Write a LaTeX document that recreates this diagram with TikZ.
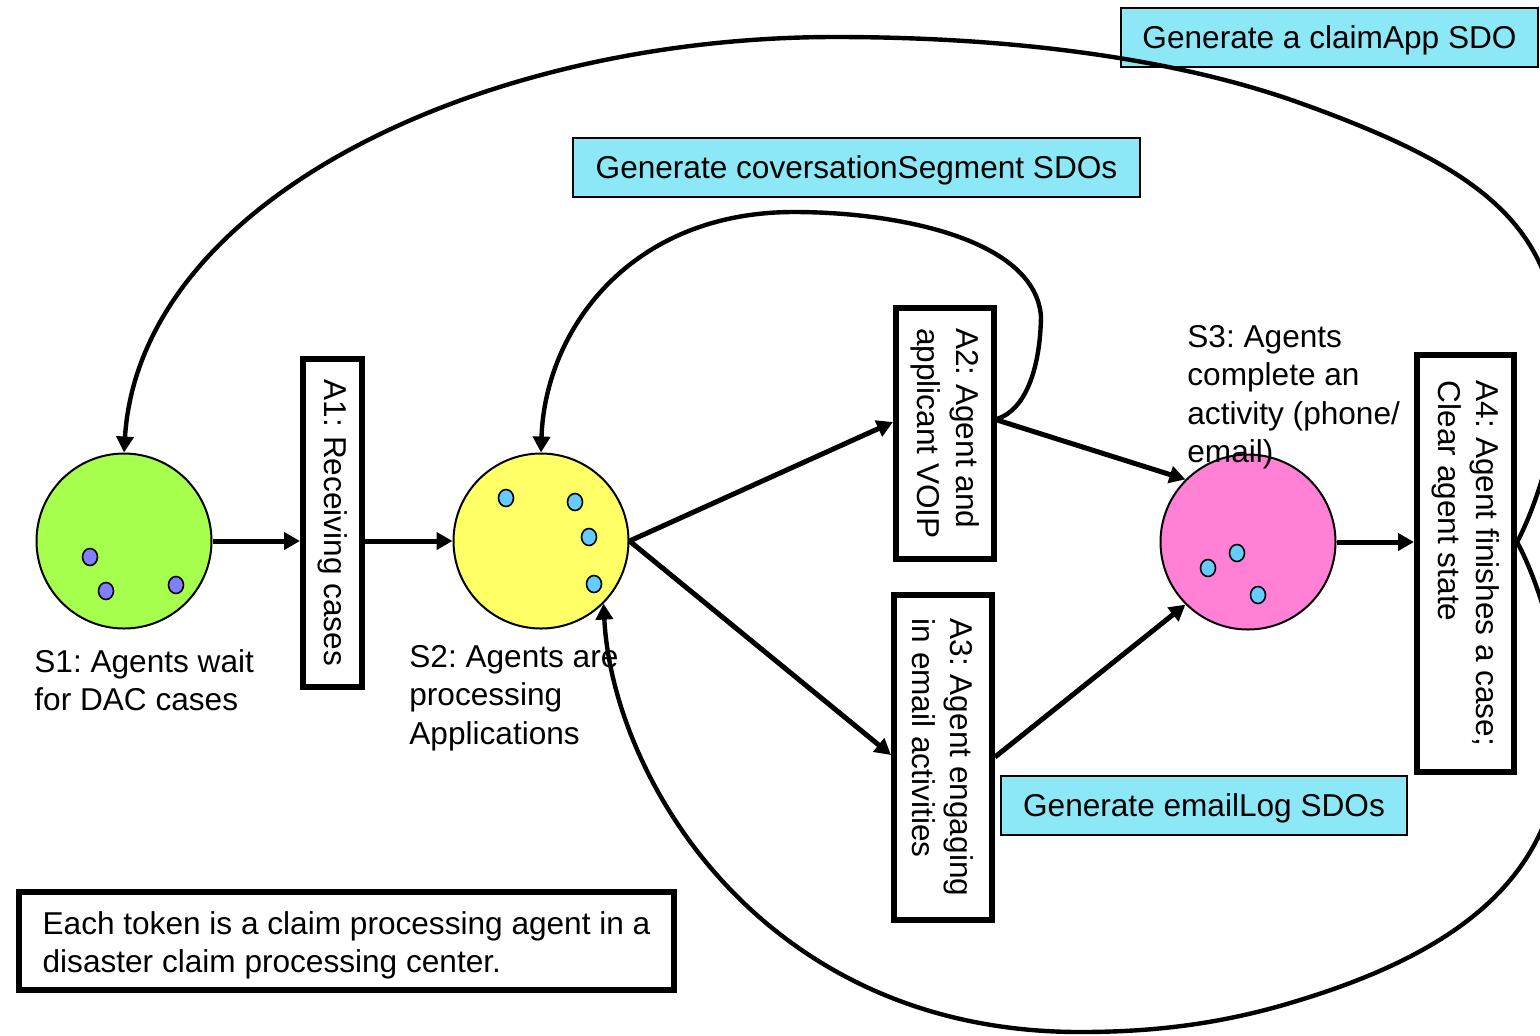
\documentclass[tikz,border=0pt]{standalone}
\usepackage{fontspec}
\setmainfont{Liberation Sans}
\usetikzlibrary{shapes.geometric,arrows.meta,calc}
\definecolor{sgreen}{RGB}{166,255,77}
\definecolor{syellow}{RGB}{255,255,102}
\definecolor{spink}{RGB}{255,128,212}
\definecolor{tokblue}{RGB}{128,128,255}
\definecolor{tokcyan}{RGB}{102,204,255}
\definecolor{sdocyan}{RGB}{140,232,246}
\frenchspacing
\begin{document}
\begin{tikzpicture}[x=0.5pt,y=-0.5pt,
  every node/.style={font=\fontsize{15.8pt}{19.2pt}\selectfont},
  place/.style={circle, draw, line width=1pt, minimum size=87.5pt, inner sep=0pt},
  tok/.style={ellipse, draw, line width=0.8pt, fill=tokcyan, minimum width=7.5pt, minimum height=8.5pt, inner sep=0pt},
  trans/.style={draw, line width=3pt, rotate=-90, align=left, inner sep=0pt},
  sdo/.style={draw, line width=1pt, fill=sdocyan, minimum height=29.5pt, inner sep=0pt, text height=11.5pt, text depth=1pt},
  arr/.style={line width=2.5pt, -{Triangle[length=8pt,width=8.5pt]}},
  loopc/.style={line width=2.2pt, -{Triangle[length=8pt,width=8.5pt]}},
  lbl/.style={anchor=north west, align=left, inner sep=0pt}
]
\useasboundingbox (0,0) rectangle (1540,1035);
\clip (0,0) rectangle (1540,1035);

% places
\node[place, fill=sgreen] (S1) at (124,541) {};
\node[place, fill=syellow] (S2) at (541,541) {};
\node[place, fill=spink] (S3) at (1248,542) {};

% tokens
\node[tok, fill=tokblue] (t11) at (90,557) {};
\node[tok, fill=tokblue] (t12) at (106,591) {};
\node[tok, fill=tokblue] (t13) at (176,585) {};
\node[tok] (t21) at (506,498) {};
\node[tok] (t22) at (575,502) {};
\node[tok] (t23) at (589,537) {};
\node[tok] (t24) at (594,584) {};
\node[tok] (t31) at (1208,568) {};
\node[tok] (t32) at (1237,553) {};
\node[tok] (t33) at (1258,595) {};

% transitions
\node[trans, minimum width=164pt, minimum height=29.5pt] (A1) at (332.5,523) {A1: Receiving cases};
\node[trans, minimum width=125.5pt, minimum height=49pt] (A2) at (945,433.5) {A2: Agent and\\applicant VOIP};
\node[trans, minimum width=162.5pt, minimum height=49pt] (A3) at (943,757.5) {A3: Agent engaging\\in email activities};
\node[trans, minimum width=208.5pt, minimum height=48.5pt] (A4) at (1465.5,563.5) {A4: Agent finishes a case;\\Clear agent state};

% SDO boxes
\node[sdo, minimum width=208.5pt] (G1) at (1329.5,37.5) {Generate a claimApp SDO};
\node[sdo, minimum width=283.5pt] (G2) at (856.5,167.5) {Generate coversationSegment SDOs};
\node[sdo, minimum width=203pt] (G3) at (1204,805.5) {Generate emailLog SDOs};

% note
\node[draw, line width=3pt, minimum width=327.5pt, minimum height=49pt, align=left, inner sep=0pt] (note) at (346.5,941)
  {\rule{0pt}{16pt}Each token is a claim processing agent in a\\disaster claim processing center.};

% labels
\node[lbl] (L1) at (34,649) {S1: Agents wait\\for DAC cases};
\node[lbl] (L2) at (409,645) {S2: Agents are\\processing\\Applications};
\node[lbl] (L3) at (1187,325) {S3: Agents\\complete an\\activity (phone/\\email)};

% straight arcs
\draw[arr] (S1.east) -- (S1.east -| A1.south);
\draw[arr] (A1.north |- S2.west) -- (S2.west);
\draw[arr] (S2.east) -- (A2.south |- 0,422);
\draw[arr] (S2.east) -- (A3.south |- 0,755);
\draw[arr] (A2.north |- 0,420) -- (S3.135);
\draw[arr] (A3.north |- 0,757) -- (S3.225);
\draw[arr] (S3.east) -- (S3.east -| A4.south);

% loop A2 -> S2
\draw[loopc] (A2.north |- 0,419) .. controls (1025,410) and (1040,370) .. (1041,317)
  .. controls (1036,240) and (900,212) .. (794,212)
  .. controls (630,212) and (545,330) .. (S2.north);

% big loop A4 -> S1
\draw[loopc] (A4.north |- 0,542) .. controls (1532,515) and (1560,440) .. (1560,370)
  .. controls (1560,230) and (1490,171) .. (1300,103)
  .. controls (1180,60) and (1020,37) .. (835,37)
  .. controls (480,37) and (140,200) .. (S1.north);

% bottom loop A4 -> S2
\draw[loopc] (A4.north |- 0,542) .. controls (1532,569) and (1560,640) .. (1562,720)
  .. controls (1565,860) and (1480,945) .. (1300,1000)
  .. controls (1220,1025) and (1150,1032) .. (1080,1032)
  .. controls (760,1032) and (612,775) .. (S2.-45);
\end{tikzpicture}
\end{document}
